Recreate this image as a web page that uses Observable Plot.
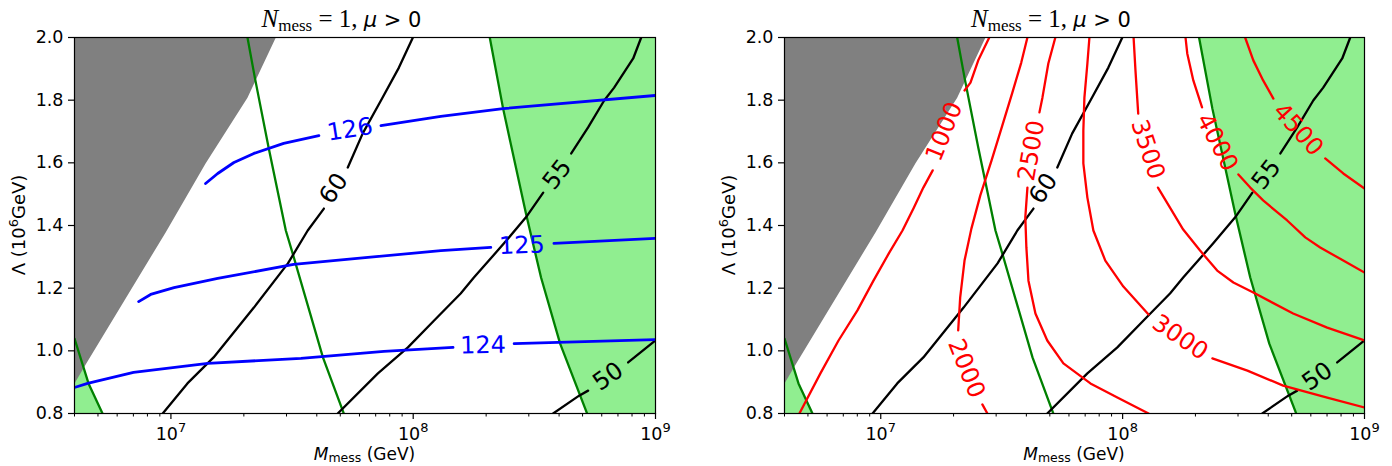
<!DOCTYPE html>
<html><head><meta charset="utf-8">
<script src="https://cdn.jsdelivr.net/npm/d3@7"></script>
<script src="https://cdn.jsdelivr.net/npm/@observablehq/plot@0.6"></script>
<style>
body{margin:0;background:#fff;}
#wrap{width:1392px;height:466px;display:flex;}
#wrap svg{display:block;flex:none;}
svg text{white-space:pre;}
</style></head><body><div id="wrap"></div>
<script>
// ---------- axes ----------
const xDomain = [4e6, 1e9];
const yDomain = [0.8, 2.0];
const yTicks = [0.8, 1.0, 1.2, 1.4, 1.6, 1.8, 2.0];
const xMajor = [1e7, 1e8, 1e9];
const xMinor = [4e6,5e6,6e6,7e6,8e6,9e6,2e7,3e7,4e7,5e7,6e7,7e7,8e7,9e7,2e8,3e8,4e8,5e8,6e8,7e8,8e8,9e8];
const GAP = [NaN, NaN]; // label gap in a contour

// ---------- excluded regions [M (GeV), Lambda (1e6 GeV)] ----------
const grayRegion = [[4e6,2.0],[2.71e7,2.0],[2.07e7,1.808],[1.39e7,1.598],[9.51e6,1.378],[4.48e6,0.960],[4e6,0.896]];
const greenLeftLine = [[4e6,1.039],[4.57e6,0.896],[5.22e6,0.800]];
const greenMidLine = [[2.07e7,2.0],[2.22e7,1.872],[2.53e7,1.649],[2.98e7,1.384],[3.18e7,1.311],[4.24e7,0.979],[5.17e7,0.800]];
const greenRightLine = [[2.07e8,2.0],[2.35e8,1.773],[2.92e8,1.438],[3.37e8,1.234],[4.04e8,1.023],[5.22e8,0.800]];

// ---------- black contours (same in both panels) ----------
const c60 = [[9.97e7,2.0],[8.73e7,1.904],[7.36e7,1.799],[6.19e7,1.694],[5.37e7,1.585],GAP,[4.28e7,1.454],[3.67e7,1.384],[3.04e7,1.279],[2.20e7,1.138],[1.50e7,0.979],[1.17e7,0.896],[9.25e6,0.800]];
const c55 = [[8.73e8,2.0],[8.09e8,1.933],[6.75e8,1.840],[6.14e8,1.799],[5.27e8,1.713],[4.49e8,1.630],GAP,[3.44e8,1.505],[2.92e8,1.426],[2.37e8,1.343],[1.78e8,1.234],[1.57e8,1.183],[1.22e8,1.097],[9.51e7,1.011],[7.15e7,0.928],[4.88e7,0.800]];
const c50 = [[3.78e8,0.800],[4.84e8,0.857],[5.27e8,0.873],GAP,[7.71e8,0.963],[1e9,1.033]];
const blackLabels = [{t:"60",M:4.70e7,L:1.518},{t:"55",M:3.93e8,L:1.563},{t:"50",M:6.38e8,L:0.918}];
const blackLabelAngle = [-56,-52,-35];

// ---------- blue contours (left panel, Higgs mass) ----------
const mh126 = [[1.39e7,1.534],[1.56e7,1.566],[1.82e7,1.601],[2.20e7,1.630],[2.92e7,1.662],[4.08e7,1.687],GAP,[7.36e7,1.719],[1.30e8,1.748],[2.35e8,1.773],[1e9,1.815]];
const mh125 = [[7.36e6,1.157],[8.25e6,1.180],[1.03e7,1.202],[1.56e7,1.231],[3.21e7,1.276],[6.50e7,1.298],[1.30e8,1.320],[2.09e8,1.330],GAP,[3.81e8,1.343],[1e9,1.359]];
const mh124 = [[4e6,0.883],[4.53e6,0.896],[7.01e6,0.931],[1.42e7,0.960],[3.44e7,0.976],[7.57e7,0.998],[1.46e8,1.011],GAP,[2.61e8,1.023],[1e9,1.036]];
const blueLabels = [{t:"126",M:5.48e7,L:1.706},{t:"125",M:2.81e8,L:1.336},{t:"124",M:1.94e8,L:1.017}];
const blueLabelAngle = [-9,-2,-1];

// ---------- red contours (right panel) ----------
const r1000 = [[2.81e7,2.0],[2.53e7,1.927],[2.35e7,1.856],[2.22e7,1.831],GAP,[1.64e7,1.576],[1.50e7,1.521],[1.37e7,1.457],[1.23e7,1.384],[1.08e7,1.311],[9.33e6,1.224],[8.01e6,1.129],[6.69e6,1.033],[5.63e6,0.928],[4.61e6,0.800]];
const r2000 = [[4.04e7,2.0],[3.81e7,1.920],[3.50e7,1.824],[3.18e7,1.719],[2.87e7,1.607],[2.58e7,1.496],[2.37e7,1.390],[2.22e7,1.288],[2.13e7,1.170],[2.09e7,1.065],GAP,[2.63e7,0.829],[2.76e7,0.800]];
const r2500 = [[5.27e7,2.0],[4.93e7,1.917],[4.66e7,1.808],[4.53e7,1.761],GAP,[4.04e7,1.521],[3.96e7,1.426],[4.00e7,1.330],[4.08e7,1.224],[4.36e7,1.119],[4.88e7,1.033],[5.69e7,0.960],[7.36e7,0.896],[9.51e7,0.851],[1.28e8,0.800]];
const r3000 = [[7.29e7,2.0],[7.15e7,1.917],[6.95e7,1.808],[6.88e7,1.703],[6.88e7,1.598],[7.15e7,1.489],[7.57e7,1.384],[8.48e7,1.288],[1.007e8,1.205],[1.28e8,1.116],GAP,[2.35e8,0.976],[3.28e8,0.937],[4.61e8,0.889],[7.01e8,0.851],[1e9,0.819]];
const r3500 = [[1.11e8,2.0],[1.13e8,1.895],[1.16e8,1.757],GAP,[1.40e8,1.521],[1.57e8,1.457],[1.78e8,1.387],[2.09e8,1.320],[2.46e8,1.256],[2.87e8,1.218],[3.47e8,1.186],[5.07e8,1.119],[7.01e8,1.074],[1e9,1.033]];
const r4000 = [[1.82e8,2.0],[1.85e8,1.949],[1.96e8,1.863],[2.13e8,1.777],GAP,[3.01e8,1.563],[3.37e8,1.521],[3.81e8,1.480],[4.79e8,1.416],[5.69e8,1.362],[6.56e8,1.330],[8.17e8,1.288],[1e9,1.250]];
const r4500 = [[3.21e8,2.0],[3.47e8,1.927],[3.81e8,1.863],[4.20e8,1.805],GAP,[6.88e8,1.614],[8.17e8,1.566],[1e9,1.518]];
const redLabels = [{t:"1000",M:1.83e7,L:1.700},{t:"2000",M:2.26e7,L:0.944},{t:"2500",M:4.20e7,L:1.639},{t:"3000",M:1.73e8,L:1.043},{t:"3500",M:1.27e8,L:1.643},{t:"4000",M:2.46e8,L:1.665},{t:"4500",M:5.32e8,L:1.706}];
const redLabelAngle = [-68,68,-80,34,72,62,48];

// ---------- drawing ----------
const X = d => d[0], Y = d => d[1];
const COL = {gray:"#808080", lightgreen:"#90ee90", green:"#008000", blue:"#0000ff", red:"#ff0000"};
const labelFont = {fontSize: 24, fontFamily: "DejaVu Sans"};

function commonMarks() {
  const xMin = xDomain[0], xMax = xDomain[1], yMin = yDomain[0], yMax = yDomain[1];
  return [
    Plot.line([...greenLeftLine, [xMin, yMin]], {x: X, y: Y, fill: COL.lightgreen, stroke: "none", clip: true}),
    Plot.line([...greenRightLine, [xMax, yMin], [xMax, yMax]], {x: X, y: Y, fill: COL.lightgreen, stroke: "none", clip: true}),
    Plot.line(grayRegion, {x: X, y: Y, fill: COL.gray, stroke: "none", clip: true}),
    ...[greenLeftLine, greenMidLine, greenRightLine].map(l => Plot.line(l, {x: X, y: Y, stroke: COL.green, strokeWidth: 2.3, clip: true})),
    ...[c60, c55, c50].map(l => Plot.line(l, {x: X, y: Y, stroke: "black", strokeWidth: 2.3, clip: true})),
    Plot.text(blackLabels, {x: d => d.M, y: d => d.L, text: d => d.t, rotate: (d, i) => blackLabelAngle[i], fill: "black", ...labelFont})
  ];
}
function axisMarks() {
  return [
    Plot.axisX({ticks: xMinor, tickSize: 3.5, tickFormat: () => "", label: null, strokeWidth: 1}),
    Plot.axisX({ticks: xMajor, tickSize: 6, tickPadding: 8, tickFormat: d => "10^" + Math.round(Math.log10(d)), label: null, strokeWidth: 1.2}),
    Plot.axisY({ticks: yTicks, tickSize: 6, tickPadding: 5, tickFormat: d3.format(".1f"), label: null, strokeWidth: 1.2}),
    Plot.frame({stroke: "black", strokeWidth: 1.2})
  ];
}
function makePanel(marginLeft, marginRight, extraMarks) {
  return Plot.plot({
    width: 696, height: 466,
    marginLeft, marginRight, marginTop: 37, marginBottom: 53,
    x: {type: "log", domain: xDomain},
    y: {domain: yDomain},
    style: {fontFamily: "DejaVu Sans", fontSize: "17.5px", color: "black", background: "white"},
    marks: [...commonMarks(), ...extraMarks, ...axisMarks()]
  });
}
function decorate(svg, cx, ylabX) {
  const s = d3.select(svg);
  s.selectAll("text").each(function() {
    const m = /^10\^(\d)$/.exec(this.textContent);
    if (m) {
      const el = d3.select(this);
      el.text("10");
      el.append("tspan").attr("dy", "-0.6em").attr("font-size", "13px").text(m[1]);
    }
  });
  const title = s.append("text").attr("x", cx - 23).attr("y", 27).attr("text-anchor", "middle").attr("fill", "black");
  title.append("tspan").attr("font-family", "Liberation Serif").attr("font-style", "italic").attr("font-size", "25px").text("N");
  title.append("tspan").attr("font-family", "Liberation Serif").attr("font-size", "17px").attr("dy", 4).text("mess");
  title.append("tspan").attr("font-family", "Liberation Serif").attr("font-size", "25px").attr("dy", -4).text(" = 1, ");
  title.append("tspan").attr("font-family", "DejaVu Sans").attr("font-style", "italic").attr("font-size", "21px").text("μ");
  title.append("tspan").attr("font-family", "DejaVu Sans").attr("font-size", "21px").text(" > 0");

  const xl = s.append("text").attr("x", cx).attr("y", 460).attr("text-anchor", "middle").attr("font-size", "17px").attr("font-family", "DejaVu Sans").attr("fill", "black");
  xl.append("tspan").attr("font-style", "italic").text("M");
  xl.append("tspan").attr("font-size", "12.5px").attr("dy", 2).text("mess");
  xl.append("tspan").attr("dy", -2).text(" (GeV)");

  const yl = s.append("text").attr("transform", `translate(${ylabX},225) rotate(-90)`).attr("text-anchor", "middle").attr("font-size", "18px").attr("font-family", "DejaVu Sans").attr("fill", "black");
  yl.append("tspan").text("Λ (10");
  yl.append("tspan").attr("font-size", "13px").attr("dy", -7).text("6");
  yl.append("tspan").attr("dy", 7).text("GeV)");
}

const leftExtra = [
  ...[mh126, mh125, mh124].map(l => Plot.line(l, {x: X, y: Y, stroke: COL.blue, strokeWidth: 2.8, clip: true})),
  Plot.text(blueLabels, {x: d => d.M, y: d => d.L, text: d => d.t, rotate: (d, i) => blueLabelAngle[i], fill: COL.blue, ...labelFont})
];
const rightExtra = [
  ...[r1000, r2000, r2500, r3000, r3500, r4000, r4500].map(l => Plot.line(l, {x: X, y: Y, stroke: COL.red, strokeWidth: 2.3, clip: true})),
  Plot.text(redLabels, {x: d => d.M, y: d => d.L, text: d => d.t, rotate: (d, i) => redLabelAngle[i], fill: COL.red, ...labelFont})
];

const wrap = document.getElementById("wrap");
const left = makePanel(74, 41, leftExtra);
const right = makePanel(88, 28, rightExtra);
wrap.appendChild(left);
wrap.appendChild(right);
decorate(left, 74 + (696 - 74 - 41) / 2, 25);
decorate(right, 88 + (696 - 88 - 28) / 2, 39);
</script></body></html>
